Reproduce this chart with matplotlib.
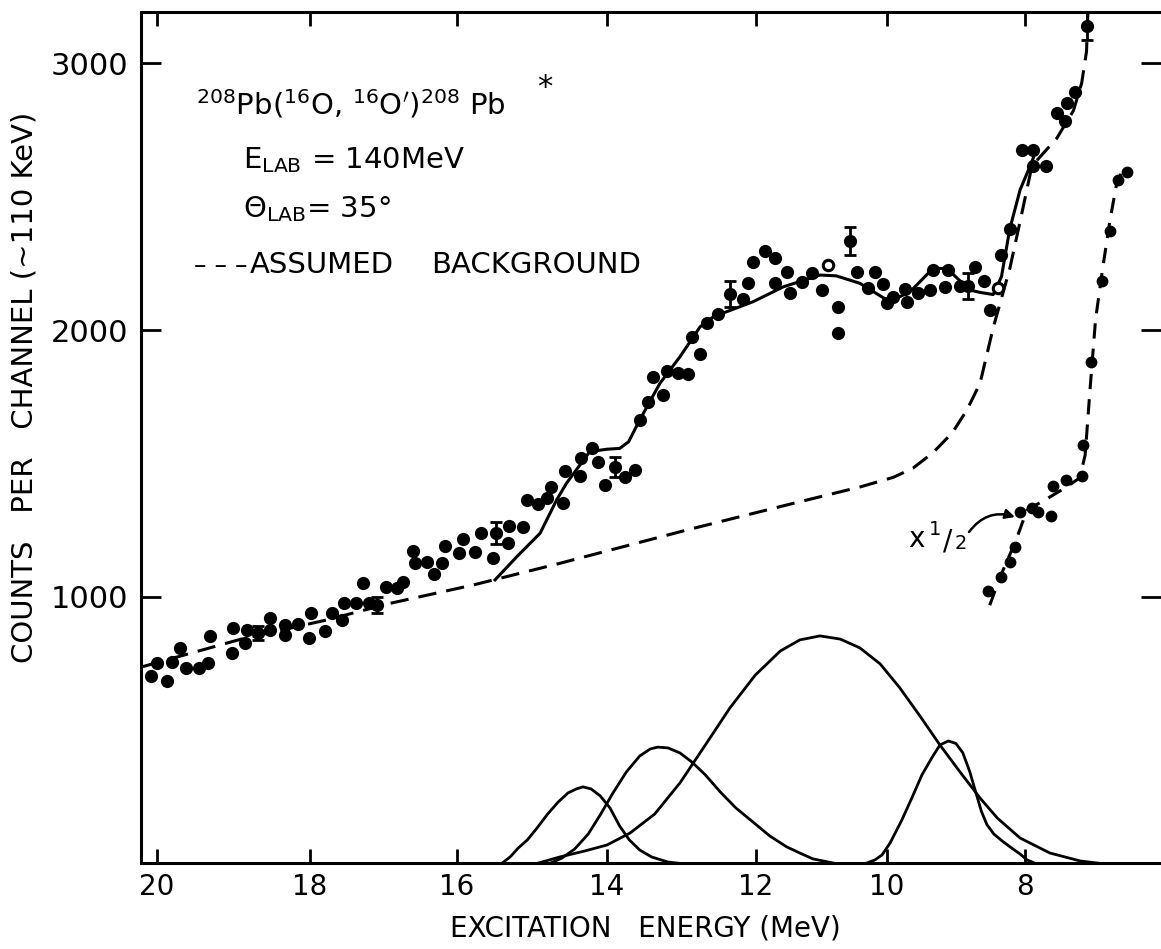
import numpy as np
import matplotlib
matplotlib.use("Agg")
import matplotlib.pyplot as plt

plt.rcParams["font.family"] = ["DejaVu Sans"]
plt.rcParams["mathtext.fontset"] = "dejavusans"

# ---------------- data ----------------
energy = [20.07, 20.00, 19.87, 19.80, 19.69, 19.62, 19.45, 19.33, 19.30, 19.02,
          19.01, 18.85, 18.82, 18.68, 18.52, 18.52, 18.33, 18.33, 18.16, 18.01,
          17.98, 17.79, 17.70, 17.56, 17.54, 17.37, 17.28, 17.20, 17.09, 16.96,
          16.81, 16.73, 16.60, 16.57, 16.40, 16.31, 16.20, 16.16, 15.97, 15.92,
          15.76, 15.68, 15.52, 15.48, 15.32, 15.30, 15.12, 15.07, 14.92, 14.80,
          14.74, 14.59, 14.56, 14.36, 14.34, 14.20, 14.12, 14.03, 13.89, 13.76,
          13.62, 13.56, 13.45, 13.38, 13.25, 13.20, 13.05, 12.91, 12.86, 12.75,
          12.66, 12.51, 12.35, 12.17, 12.11, 12.04, 11.86, 11.71, 11.71, 11.53,
          11.48, 11.30, 11.15, 10.99, 10.75, 10.75, 10.56, 10.46, 10.29, 10.18,
          10.06, 10.00, 9.91, 9.74, 9.71, 9.55, 9.37, 9.33, 9.16, 9.11,
          8.94, 8.82, 8.72, 8.59, 8.51, 8.34, 8.22, 8.05, 7.88, 7.88,
          7.69, 7.54, 7.42, 7.39, 7.28, 7.11]
counts = [703, 751, 684, 756, 808, 733, 733, 751, 853, 789,
          883, 826, 875, 864, 920, 875, 894, 856, 898, 845,
          939, 871, 939, 913, 976, 976, 1051, 976, 969, 1036,
          1033, 1055, 1171, 1126, 1130, 1085, 1126, 1190, 1164, 1216,
          1168, 1239, 1145, 1239, 1201, 1265, 1261, 1363, 1348, 1370,
          1411, 1351, 1472, 1453, 1520, 1558, 1505, 1419, 1486, 1449,
          1475, 1663, 1730, 1824, 1756, 1847, 1839, 1835, 1975, 1910,
          2026, 2060, 2135, 2116, 2177, 2256, 2297, 2270, 2177, 2219,
          2140, 2181, 2214, 2150, 2086, 1990, 2335, 2219, 2158, 2219,
          2173, 2101, 2124, 2154, 2106, 2140, 2150, 2225, 2162, 2225,
          2165, 2165, 2237, 2182, 2074, 2281, 2379, 2675, 2675, 2615,
          2615, 2815, 2785, 2852, 2894, 3140]
open_energy = [10.90, 8.39]
open_counts = [2244, 2156]

err_energy = [18.68, 17.09, 15.48, 13.89, 12.35, 10.56, 8.82, 7.11]
err_counts = [864, 969, 1239, 1486, 2135, 2335, 2165, 3140]
err_size = [28, 30, 41, 37, 47, 52, 49, 52]

fit_energy = [15.49, 15.20, 14.89, 14.67, 14.54, 14.36, 14.23, 14.00, 13.83, 13.71,
              13.56, 13.29, 13.02, 12.75, 12.57, 12.39, 12.04, 11.58, 11.02, 10.77,
              10.41, 10.00, 9.81, 9.66, 9.33, 9.13, 8.80, 8.65, 8.46, 8.34,
              8.22, 8.07, 7.95, 7.88]
fit_counts = [1063, 1150, 1238, 1363, 1425, 1494, 1544, 1553, 1556, 1581,
              1663, 1800, 1900, 2012, 2050, 2069, 2106, 2162, 2206, 2203,
              2175, 2113, 2125, 2144, 2231, 2231, 2150, 2141, 2133, 2200,
              2379, 2526, 2600, 2645]

bg_energy = [20.18, 18.91, 17.77, 16.91, 15.78, 14.63, 12.93, 11.43, 10.40, 9.90,
             9.62, 9.33, 9.05, 8.84, 8.65, 8.46, 8.22, 8.07, 7.90, 7.54,
             7.30, 7.18, 7.11, 7.09]
bg_counts = [738, 840, 913, 975, 1044, 1125, 1250, 1350, 1412, 1448,
             1482, 1540, 1615, 1700, 1800, 2008, 2230, 2408, 2615, 2719,
             2822, 2926, 3045, 3193]

half_energy = [8.54, 8.34, 8.22, 8.14, 8.07, 7.90, 7.81, 7.63, 7.59, 7.40,
               7.18, 7.16, 7.04, 6.89, 6.77, 6.65, 6.53]
half_counts = [1021, 1074, 1130, 1185, 1318, 1333, 1318, 1303, 1415, 1438,
               1453, 1570, 1881, 2185, 2371, 2562, 2592]
half_line_energy = [8.51, 8.36, 8.14, 7.97, 7.71, 7.42, 7.21, 7.13, 7.06, 6.98,
                    6.88, 6.77, 6.67, 6.60]
half_line_counts = [968, 1074, 1205, 1325, 1363, 1408, 1445, 1531, 1775, 2038,
                    2225, 2413, 2555, 2592]

peak_a_energy = [15.40, 15.29, 15.18, 15.06, 14.93, 14.79, 14.65, 14.52, 14.41, 14.32,
                 14.21, 14.09, 13.96, 13.83, 13.70, 13.56, 13.40, 13.18, 13.02]
peak_a_counts = [0, 24, 58, 88, 133, 185, 230, 264, 279, 287,
                 279, 253, 208, 140, 88, 50, 24, 5, 0]
peak_b_energy = [14.76, 14.60, 14.43, 14.25, 14.09, 13.92, 13.74, 13.56, 13.42, 13.32,
                 13.18, 13.02, 12.86, 12.68, 12.48, 12.27, 12.04, 11.79, 11.53, 11.33,
                 11.13, 10.79]
peak_b_counts = [0, 20, 54, 110, 182, 264, 343, 403, 429, 436,
                 433, 414, 380, 332, 268, 208, 155, 103, 62, 39,
                 17, 0]
peak_c_energy = [14.93, 14.63, 14.29, 14.00, 13.69, 13.36, 13.02, 12.68, 12.35, 12.01,
                 11.63, 11.33, 11.02, 10.71, 10.41, 10.10, 9.81, 9.52, 9.23, 8.94,
                 8.65, 8.40, 8.07, 7.64, 7.20, 6.91]
peak_c_counts = [0, 24, 47, 69, 114, 185, 302, 444, 583, 706,
                 796, 838, 853, 841, 808, 748, 658, 553, 444, 343,
                 245, 170, 95, 39, 9, 0]
peak_d_energy = [10.32, 10.18, 10.07, 9.95, 9.78, 9.63, 9.49, 9.34, 9.23, 9.11,
                 9.00, 8.90, 8.80, 8.71, 8.63, 8.55, 8.45, 8.32, 8.19, 8.07,
                 7.97, 7.85]
peak_d_counts = [0, 13, 32, 77, 163, 249, 332, 399, 444, 459,
                 450, 415, 345, 265, 195, 145, 110, 82, 57, 35,
                 13, 0]

x_ticks = [20, 18, 16, 14, 12, 10, 8]
y_ticks = [1000, 2000, 3000]

# The hand-drawn energy axis of the original is slightly non-uniform:
# measured tick-mark offsets along the frame are used to build the scale.
axis_tick_energy = np.array([8, 10, 12, 14, 16, 18, 20], dtype=float)
axis_tick_offset = -np.array([1025.0, 886.7, 756.0, 607.0, 456.7, 310.0, 156.7])


def _pw(x, xp, fp):
    x = np.asarray(x, dtype=float)
    shp = x.shape
    x1 = x.ravel()
    y = np.interp(x1, xp, fp)
    lo = x1 < xp[0]
    hi = x1 > xp[-1]
    y[lo] = fp[0] + (x1[lo] - xp[0]) * (fp[1] - fp[0]) / (xp[1] - xp[0])
    y[hi] = fp[-1] + (x1[hi] - xp[-1]) * (fp[-1] - fp[-2]) / (xp[-1] - xp[-2])
    return y.reshape(shp)


def fwd(e):
    return _pw(e, axis_tick_energy, axis_tick_offset)


def inv(u):
    return _pw(u, axis_tick_offset, axis_tick_energy)


# ---------------- figure ----------------
W, H = 1161, 949
fig = plt.figure(figsize=(W / 100, H / 100), dpi=100)
ax = fig.add_axes([140.7 / W, 1 - 863.4 / H, 1 - 140.7 / W, (863.4 - 11.7) / H])
ax.set_xscale("function", functions=(fwd, inv))
ax.set_xlim(20.209, 6.033)
ax.set_ylim(0, 3193.5)


def fx(px):
    return px / W


def fy(py):
    return 1 - py / H


lw = 2.2
for e, c in [(peak_a_energy, peak_a_counts), (peak_b_energy, peak_b_counts),
             (peak_c_energy, peak_c_counts), (peak_d_energy, peak_d_counts)]:
    ax.plot(e, c, color="black", lw=2.0, solid_capstyle="round", solid_joinstyle="round")

ax.plot(bg_energy, bg_counts, color="black", lw=lw, dashes=(6, 3.3))
ax.plot(half_line_energy, half_line_counts, color="black", lw=lw, dashes=(5, 3.3))
ax.plot(fit_energy, fit_counts, color="black", lw=lw, solid_joinstyle="round")

ax.plot(energy, counts, "o", color="black", ms=9.5, mew=0)
ax.plot(open_energy, open_counts, "o", mfc="white", mec="black", ms=7.5, mew=2.2)
ax.plot(half_energy, half_counts, "o", color="black", ms=8.5, mew=0)
ax.errorbar(err_energy, err_counts, yerr=err_size, fmt="none", ecolor="black",
            elinewidth=2.0, capsize=4, capthick=2.0)

# ---------------- axes styling ----------------
ax.set_xticks(x_ticks)
ax.set_xticklabels([str(t) for t in x_ticks])
ax.set_yticks(y_ticks)
ax.set_yticklabels([str(t) for t in y_ticks])
ax.minorticks_off()
ax.xaxis.set_ticks_position("both")
ax.yaxis.set_ticks_position("both")
ax.tick_params(axis="x", which="major", direction="in", length=10, width=2,
               labelsize=20, pad=7, labeltop=False)
ax.tick_params(axis="y", which="major", direction="in", length=14.5, width=2,
               labelsize=22, pad=9, labelright=False)
for side in ["left", "top", "bottom"]:
    ax.spines[side].set_linewidth(2.2)
ax.spines["right"].set_visible(False)

# ---------------- texts ----------------
fs = 21
fig.text(fx(196), fy(115),
         r"$^{208}$Pb($^{16}$O, $^{16}$O$'$)$^{208}$ Pb", fontsize=fs, va="baseline", ha="left")
fig.text(fx(545), fy(88), "*", fontsize=22, va="center", ha="center")
fig.text(fx(243), fy(168), r"E$_{\mathrm{LAB}}$ = 140MeV", fontsize=fs, va="baseline", ha="left")
fig.text(fx(243), fy(217), r"$\Theta_{\mathrm{LAB}}$= 35°", fontsize=fs, va="baseline", ha="left")
fig.text(fx(194), fy(273), "– – –", fontsize=18, va="baseline", ha="left")
fig.text(fx(250), fy(273), "ASSUMED", fontsize=fs, va="baseline", ha="left")
fig.text(fx(431), fy(273), "BACKGROUND", fontsize=fs, va="baseline", ha="left")

fig.text(fx(25), fy(387), "COUNTS   PER   CHANNEL (~110 KeV)", fontsize=21,
         rotation=90, ha="center", va="center")
fig.text(fx(645), fy(929), "EXCITATION   ENERGY (MeV)", fontsize=20,
         ha="center", va="center")

# "x 1/2" label with curved arrow
fig.text(fx(908), fy(547), "x", fontsize=20, va="baseline", ha="left")
fig.text(fx(929), fy(535), "1", fontsize=14, va="baseline", ha="left")
fig.text(fx(943), fy(549), "/", fontsize=20, va="baseline", ha="left")
fig.text(fx(955), fy(549), "2", fontsize=14, va="baseline", ha="left")
ax.annotate("", xy=(fx(1015), fy(517)), xycoords="figure fraction",
            xytext=(fx(969), fy(532)), textcoords="figure fraction",
            arrowprops=dict(arrowstyle="-|>", color="black", lw=1.8,
                            mutation_scale=14, shrinkA=0, shrinkB=0,
                            connectionstyle="arc3,rad=-0.35"))

fig.savefig("out.png", dpi=100, facecolor="white")
